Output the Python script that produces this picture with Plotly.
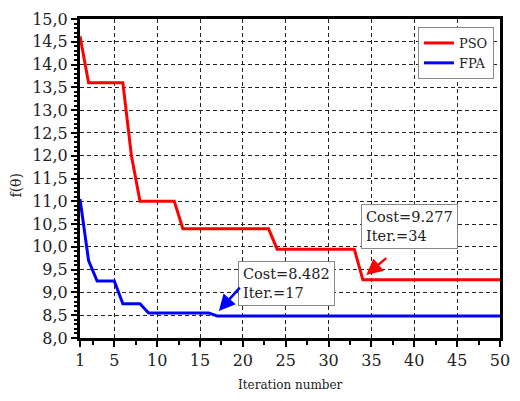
import plotly.graph_objects as go

# Data
iters = list(range(1, 51))
pso_steps = [(1, 14.62), (2, 13.6), (6, 13.6), (7, 12.0), (8, 11.0), (12, 11.0), (13, 10.4),
             (23, 10.4), (24, 9.95), (33, 9.95), (34, 9.277), (50, 9.277)]
fpa_steps = [(1, 11.05), (2, 9.7), (3, 9.25), (5, 9.25), (6, 8.75), (8, 8.75), (9, 8.55),
             (16, 8.55), (17, 8.482), (50, 8.482)]
pso_x = [p[0] for p in pso_steps]
pso_y = [p[1] for p in pso_steps]
fpa_x = [p[0] for p in fpa_steps]
fpa_y = [p[1] for p in fpa_steps]

x_ticks = [1, 5, 10, 15, 20, 25, 30, 35, 40, 45, 50]
y_ticks = [8.0, 8.5, 9.0, 9.5, 10.0, 10.5, 11.0, 11.5, 12.0, 12.5, 13.0, 13.5, 14.0, 14.5, 15.0]
y_labels = [f"{v:.1f}".replace(".", ",") for v in y_ticks]

FONT = "DejaVu Serif"

fig = go.Figure()
fig.add_trace(go.Scatter(x=pso_x, y=pso_y, mode="lines", name="PSO",
                         line=dict(color="#ff0000", width=3)))
fig.add_trace(go.Scatter(x=fpa_x, y=fpa_y, mode="lines", name="FPA",
                         line=dict(color="#0000ff", width=3)))

grid = dict(showgrid=True, gridcolor="#222222", griddash="4px,3px", gridwidth=1)

fig.update_xaxes(range=[1, 50], tickvals=x_ticks, ticks="outside", ticklen=6, tickwidth=2,
                 tickcolor="black", showline=True, linecolor="black", linewidth=3, mirror=True,
                 zeroline=False, tickfont=dict(family=FONT, size=16, color="#222222"),
                 minor=dict(tick0=2.5, dtick=5, ticks="outside", ticklen=4, tickwidth=2,
                            tickcolor="black", showgrid=False),
                 **grid)
fig.update_yaxes(range=[8, 15], tickvals=y_ticks, ticktext=y_labels, ticks="outside", ticklen=6,
                 tickwidth=2, tickcolor="black", showline=True, linecolor="black", linewidth=3,
                 mirror=True, zeroline=False, tickfont=dict(family=FONT, size=16, color="#222222"),
                 minor=dict(dtick=0.1, ticks="outside", ticklen=3, tickwidth=1.5,
                            tickcolor="black", showgrid=False),
                 **grid)

annotations = [
    dict(x=39.4, y=10.45, xref="x", yref="y", text="Cost=9.277<br>Iter.=34", showarrow=False,
         align="left", font=dict(family=FONT, size=14.5, color="#222222"), bgcolor="white",
         bordercolor="#888888", borderwidth=1, borderpad=4),
    dict(x=25.1, y=9.20, xref="x", yref="y", text="Cost=8.482<br>Iter.=17", showarrow=False,
         align="left", font=dict(family=FONT, size=14.5, color="#222222"), bgcolor="white",
         bordercolor="#888888", borderwidth=1, borderpad=4),
    dict(x=34.4, y=9.38, xref="x", yref="y", ax=36.9, ay=9.78, axref="x", ayref="y", text="",
         showarrow=True, arrowhead=2, arrowsize=1.3, arrowwidth=2.5, arrowcolor="#ff0000"),
    dict(x=17.2, y=8.59, xref="x", yref="y", ax=19.8, ay=9.14, axref="x", ayref="y", text="",
         showarrow=True, arrowhead=2, arrowsize=1.3, arrowwidth=2.5, arrowcolor="#0000ff"),
    dict(x=0.5, y=-(385 - 338) / 319, xref="paper", yref="paper", text="Iteration number",
         showarrow=False, font=dict(family=FONT, size=12, color="#222222"), yanchor="middle"),
    dict(x=-(80 - 14) / 430, y=(338 - 185) / 319, xref="paper", yref="paper", text="f(θ)",
         showarrow=False, textangle=-90, font=dict(family=FONT, size=14, color="#222222"),
         xanchor="center", yanchor="middle"),
]

fig.update_layout(
    width=520, height=401,
    margin=dict(l=80, r=10, t=19, b=63),
    paper_bgcolor="white", plot_bgcolor="white",
    font=dict(family=FONT),
    showlegend=True,
    legend=dict(x=(426 - 80) / 430, y=1 - (27 - 19) / 319, xanchor="left", yanchor="top",
                bgcolor="white", bordercolor="#888888", borderwidth=1,
                font=dict(family=FONT, size=13, color="#222222"), itemwidth=30,
                tracegroupgap=0),
    annotations=annotations,
)

fig.write_html("out.html")
